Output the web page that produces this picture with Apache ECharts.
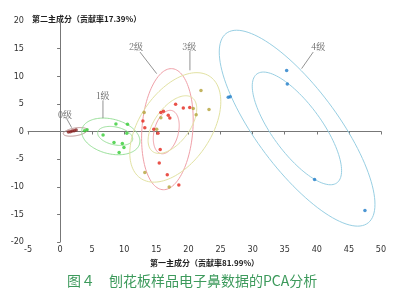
<!DOCTYPE html>
<html><head><meta charset="utf-8">
<script src="https://cdn.jsdelivr.net/npm/echarts@6/dist/echarts.min.js"></script>
<style>html,body{margin:0;padding:0;background:#fff}#c{width:413px;height:307px}</style>
</head><body><div id="c"></div>
<script>
// ---- data ----
const groupNames = ['0级','1级','2级','3级','4级'];
const pts0 = [[1.3,-0.1],[1.6,-0.05],[1.9,0.1],[2.2,0.15],[2.5,0.25]];
const pts1 = [[3.8,0.15],[4.2,0.3],[6.7,-0.65],[8.7,1.35],[10.5,1.3],[10.4,-0.3],[8.4,-2.0],[9.7,-2.15],[9.95,-2.9],[9.2,-3.8]];
const pts2 = [[18.0,4.95],[19.2,4.25],[20.2,4.35],[16.1,3.65],[15.7,3.45],[16.85,2.95],[17.1,2.45],[12.9,1.9],[13.2,0.7],[14.6,0.4],[15.25,-0.3],[15.6,-3.25],[15.45,-5.7],[16.7,-7.85],[18.5,-9.7]];
const pts3 = [[21.95,7.4],[23.2,4.0],[20.75,4.15],[21.2,3.05],[15.7,2.5],[13.1,3.45],[15.05,0.4],[13.2,-7.4],[17.0,-10.05]];
const pts4 = [[26.2,6.2],[26.5,6.3],[35.3,11.05],[35.4,8.6],[39.65,-8.7],[47.5,-14.3]];
// confidence ellipses: [cx, cy, halfWidth, halfHeight, rho, groupIndex]
const ellipses = [
  [2.37,-0.07,1.87,0.78,0.41,0],
  [7.9,-0.89,4.54,3.32,-0.26,1],
  [8.58,-0.8,2.73,1.72,-0.3,1],
  [16.72,0.42,4.02,10.96,0.15,2],
  [16.54,-0.1,2.02,3.93,0.3,2],
  [17.95,0.74,7.09,9.91,0.47,3],
  [17.5,1.25,3.79,5.22,0.55,3],
  [36.93,0.6,12.13,17.73,-0.777,4],
  [36.9,0.56,6.96,10.2,-0.75,4]
];
// annotation labels: [textX, textY, lineX1, lineY1, lineX2, lineY2, groupIndex]
const annots = [
  [0.76,3.1,1.03,2.32,1.81,0.69,0],
  [6.68,6.54,6.68,5.63,6.68,2.43,1],
  [11.82,15.42,12.45,14.38,15.05,10.47,2],
  [20.12,15.42,20.23,14.57,20.23,11.07,3],
  [40.22,15.29,39.44,14.38,37.63,11.38,4]
];
const xTitle = '第一主成分（贡献率81.99%）';
const yTitle = '第二主成分（贡献率17.39%）';
const caption = '图４　刨花板样品电子鼻数据的PCA分析';

const ptColors = ['#8b2323','#33cc33','#e3261c','#b4a23a','#1f7cc8'];
const ellColors = ['#b89090','#99e099','#f0a0a8','#e2e2a2','#98cfe3'];
const allPts = [pts0,pts1,pts2,pts3,pts4];

const chart = echarts.init(document.getElementById('c'));
const series = [];
series.push({
  type:'custom', silent:true, data: ellipses, encode:{x:0,y:1}, clip:false, z:1,
  renderItem:function(params, api){
    const cx=api.value(0), cy=api.value(1), rx=api.value(2), ry=api.value(3), rho=api.value(4), g=api.value(5);
    const s=Math.sqrt(1-rho*rho); const pts=[];
    for(let i=0;i<=120;i++){ const t=i/120*Math.PI*2;
      pts.push(api.coord([cx+rx*Math.cos(t), cy+ry*(rho*Math.cos(t)+s*Math.sin(t))])); }
    return {type:'polyline', shape:{points:pts}, style:{stroke:ellColors[g], fill:null, lineWidth:1}};
  }
});
allPts.forEach((p,i)=>{
  series.push({type:'scatter', name:groupNames[i], data:p, symbol:'circle', symbolSize:3.5,
    itemStyle:{color:ptColors[i]}, z:3, silent:true});
});
series.push({
  type:'custom', silent:true, data: annots, encode:{x:0,y:1}, clip:false, z:4,
  renderItem:function(params, api){
    const g=api.value(6);
    const tp=api.coord([api.value(0),api.value(1)]);
    const a=api.coord([api.value(2),api.value(3)]);
    const b=api.coord([api.value(4),api.value(5)]);
    return {type:'group', children:[
      {type:'line', shape:{x1:a[0],y1:a[1],x2:b[0],y2:b[1]}, style:{stroke:'#777',lineWidth:0.8}},
      {type:'text', x:tp[0], y:tp[1], style:{text:groupNames[g], fill:'#666', font:'9px "Noto Serif CJK SC","Noto Sans CJK SC",serif', align:'center', verticalAlign:'middle'}}
    ]};
  }
});

chart.setOption({
  animation:false,
  backgroundColor:'#fff',
  grid:{left:28,right:32,top:21,bottom:65,containLabel:false},
  xAxis:{type:'value',min:-5,max:50,interval:5,
    name:xTitle,nameLocation:'middle',nameGap:13,
    nameTextStyle:{fontSize:8,color:'#222',fontWeight:'bold',fontFamily:'"Noto Sans CJK SC"'},
    axisLine:{lineStyle:{color:'#777'}},axisTick:{length:3,lineStyle:{color:'#777'}},
    axisLabel:{fontSize:9,color:'#333',margin:3,fontFamily:'"Liberation Sans Narrow","DejaVu Sans Condensed",sans-serif'},
    splitLine:{show:false}},
  yAxis:{type:'value',min:-20,max:20,interval:5,
    axisLine:{show:true,lineStyle:{color:'#777'}},axisTick:{show:true,length:3,lineStyle:{color:'#777'}},
    axisLabel:{fontSize:9,color:'#333',margin:4,fontFamily:'"Liberation Sans Narrow","DejaVu Sans Condensed",sans-serif'},
    splitLine:{show:false}},
  graphic:[
    {type:'text',left:32,top:15,style:{text:yTitle,font:'bold 8px "Noto Sans CJK SC"',fill:'#222'}},
    {type:'text',left:67,top:274,style:{text:caption,font:'14px "Noto Sans CJK SC"',fill:'#3d9a5c'}}
  ],
  series:series
});
</script></body></html>
